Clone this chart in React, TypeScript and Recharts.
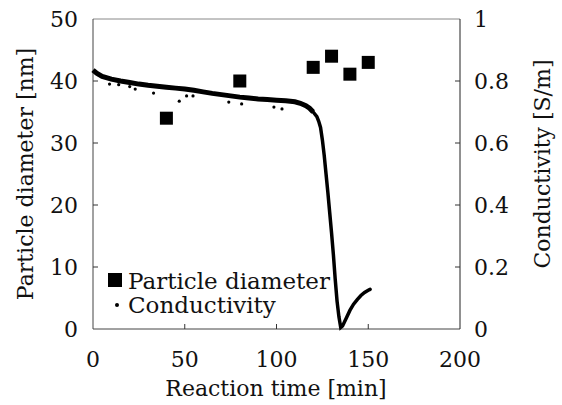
import React from 'react'
import { ComposedChart, Scatter, XAxis, YAxis, ReferenceLine } from 'recharts'

// particle diameter samples [min, nm]
const diamTime = [40, 80, 120, 130, 140, 150]
const diamValue = [34, 40, 42.2, 44, 41.1, 43]

// conductivity trace [min, S/m]
const condTime = [0, 2, 5, 10, 15, 20, 25, 30, 35, 40, 45, 50, 55, 60, 65, 70, 75, 80, 85, 90, 95, 100, 105, 110, 113, 116, 118, 120, 122, 123, 124, 125, 126, 127, 128, 129, 130, 131, 132, 133, 134, 135, 136, 138, 140, 142, 144, 146, 148, 150, 151]
const condValue = [0.835, 0.825, 0.815, 0.806, 0.8, 0.795, 0.79, 0.786, 0.783, 0.78, 0.777, 0.774, 0.77, 0.765, 0.76, 0.756, 0.752, 0.748, 0.745, 0.742, 0.74, 0.738, 0.736, 0.733, 0.728, 0.72, 0.712, 0.7, 0.685, 0.67, 0.65, 0.61, 0.56, 0.5, 0.44, 0.375, 0.31, 0.24, 0.16, 0.09, 0.04, 0.005, 0.01, 0.035, 0.06, 0.08, 0.095, 0.108, 0.118, 0.125, 0.128]

// scattered readings below the main trace
const strayTime = [9, 14, 20, 23, 33, 47, 51, 54.5, 74, 81, 98.6, 103]
const strayValue = [0.79, 0.788, 0.782, 0.774, 0.761, 0.735, 0.752, 0.752, 0.732, 0.726, 0.716, 0.71]

const xTicks = [0, 50, 100, 150, 200]
const leftTicks = [0, 10, 20, 30, 40, 50]
const rightTicks = [0, 0.2, 0.4, 0.6, 0.8, 1]

const diamData = diamTime.map((t, i) => ({ t, d: diamValue[i] }))
const condData = condTime.map((t, i) => ({ t, c: condValue[i] }))
// plateau part is drawn heavier than the fast drop, like the dense dot cloud
const condFlat = condData.filter((p) => p.t <= 120)
const condDrop = condData.filter((p) => p.t >= 120)
const strayData = strayTime.map((t, i) => ({ t, c: strayValue[i] }))

const FONT = "'DejaVu Serif', 'Liberation Serif', 'Times New Roman', serif"
const txt: React.CSSProperties = { fontFamily: FONT, fontSize: 22 }
const legendTxt: React.CSSProperties = { fontFamily: FONT, fontSize: 23 }

const XTick = (props: any) => {
  const { x, y, payload } = props
  const edge = payload.value === 0 || payload.value === 200
  return (
    <g>
      {!edge && <line x1={x} y1={y} x2={x} y2={y - 5} stroke="#333" />}
      <text x={x} y={y + 38} textAnchor="middle" style={txt} fill="#111">
        {payload.value}
      </text>
    </g>
  )
}

const LeftTick = (props: any) => {
  const { x, y, payload } = props
  const edge = payload.value === 0 || payload.value === 50
  return (
    <g>
      {!edge && <line x1={x} y1={y} x2={x + 5} y2={y} stroke="#333" />}
      <text x={x - 15} y={y + 8} textAnchor="end" style={txt} fill="#111">
        {payload.value}
      </text>
    </g>
  )
}

const RightTick = (props: any) => {
  const { x, y, payload } = props
  const edge = payload.value === 0 || payload.value === 1
  return (
    <g>
      {!edge && <line x1={x} y1={y} x2={x - 5} y2={y} stroke="#333" />}
      <text x={x + 14} y={y + 8} textAnchor="start" style={txt} fill="#111">
        {payload.value}
      </text>
    </g>
  )
}

const Square = (props: any) => {
  const { cx, cy } = props
  return <rect x={cx - 6.5} y={cy - 6.5} width={13} height={13} fill="#000" />
}

const Dot = (props: any) => {
  const { cx, cy } = props
  return <circle cx={cx} cy={cy} r={1.6} fill="#000" />
}

const NoDot = () => <g />

export default function App() {
  return (
    <div style={{ position: 'absolute', left: 0, top: 0, width: 562, height: 405, background: '#fff' }}>
      <ComposedChart width={562} height={405} margin={{ top: 19, right: 0, left: 0, bottom: 0 }}>
        <XAxis
          dataKey="t"
          type="number"
          domain={[0, 200]}
          ticks={xTicks}
          height={76}
          tickSize={0}
          tickMargin={0}
          tick={<XTick />}
          axisLine={{ stroke: '#444' }}
        />
        <YAxis
          yAxisId="left"
          dataKey="d"
          type="number"
          domain={[0, 50]}
          ticks={leftTicks}
          width={93}
          tickSize={0}
          tickMargin={0}
          tick={<LeftTick />}
          axisLine={{ stroke: '#444' }}
        />
        <YAxis
          yAxisId="right"
          orientation="right"
          dataKey="c"
          type="number"
          domain={[0, 1]}
          ticks={rightTicks}
          width={102}
          tickSize={0}
          tickMargin={0}
          tick={<RightTick />}
          axisLine={{ stroke: '#222' }}
        />
        <ReferenceLine yAxisId="left" y={50} stroke="#888" />
        <Scatter
          yAxisId="right"
          data={condFlat}
          dataKey="c"
          line={{ stroke: '#000', strokeWidth: 5 }}
          lineType="joint"
          shape={<NoDot />}
          isAnimationActive={false}
        />
        <Scatter
          yAxisId="right"
          data={condDrop}
          dataKey="c"
          line={{ stroke: '#000', strokeWidth: 3.5, strokeLinecap: 'round' }}
          lineType="joint"
          shape={<NoDot />}
          isAnimationActive={false}
        />
        <Scatter yAxisId="right" data={strayData} dataKey="c" shape={<Dot />} isAnimationActive={false} />
        <Scatter yAxisId="left" data={diamData} dataKey="d" shape={<Square />} isAnimationActive={false} />
      </ComposedChart>
      <svg width={562} height={405} style={{ position: 'absolute', left: 0, top: 0, pointerEvents: 'none' }}>
        <g style={txt} fill="#111">
          <text x={276} y={396} textAnchor="middle">Reaction time [min]</text>
          <text transform="translate(33,174) rotate(-90)" textAnchor="middle">Particle diameter [nm]</text>
          <text transform="translate(550,164) rotate(-90)" textAnchor="middle">Conductivity [S/m]</text>
        </g>
        <g style={legendTxt} fill="#111">
          <rect x={108} y={273} width={14} height={14} fill="#000" />
          <text x={128} y={289}>Particle diameter</text>
          <circle cx={117} cy={305} r={2} fill="#000" />
          <text x={128} y={313}>Conductivity</text>
        </g>
      </svg>
    </div>
  )
}
